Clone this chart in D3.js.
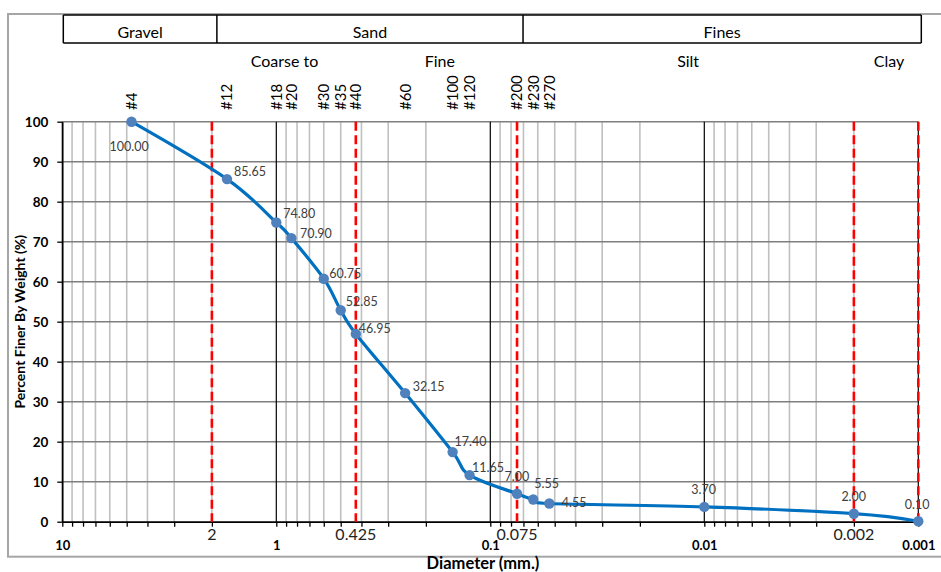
<!DOCTYPE html>
<html>
<head>
<meta charset="utf-8">
<script src="https://cdn.jsdelivr.net/npm/d3@7/dist/d3.min.js"></script>
<style>
  html, body { margin: 0; padding: 0; background: #fff; }
  svg { display: block; font-family: Lato, "Open Sans", sans-serif; }
</style>
</head>
<body>
<svg id="chart" width="941" height="572"></svg>
<script>
// Grain size distribution: sieve and hydrometer results
const diameters = [4.75, 1.7, 1.0, 0.85, 0.6, 0.5, 0.425, 0.25, 0.15, 0.125, 0.075, 0.063, 0.053, 0.01, 0.002, 0.001];
const percentFiner = [100.00, 85.65, 74.80, 70.90, 60.75, 52.85, 46.95, 32.15, 17.40, 11.65, 7.00, 5.55, 4.55, 3.70, 2.00, 0.10];

// US standard sieve numbers and their openings (mm)
const sieveNames = ["#4", "#12", "#18", "#20", "#30", "#35", "#40", "#60", "#100", "#120", "#200", "#230", "#270"];
const sieveSizes = [4.75, 1.7, 1.0, 0.85, 0.6, 0.5, 0.425, 0.25, 0.15, 0.125, 0.075, 0.063, 0.053];

// Soil classification boundaries (mm)
const boundaryDiameters = [2, 0.425, 0.075, 0.002, 0.001];
const boundaryLabels = ["2", "0.425", "0.075", "0.002", ""];

// Header groups and sub-labels
const groupNames = ["Gravel", "Sand", "Fines"];
const groupEdges = [10, 2, 0.075, 0.001];
const subNames = ["Coarse to", "Fine", "Silt", "Clay"];
const subCenters = [0.916, 0.172, 0.0119, 0.00137];

// Axis ticks
const decadeTicks = [10, 1, 0.1, 0.01, 0.001];
const percentTicks = [0, 10, 20, 30, 40, 50, 60, 70, 80, 90, 100];

// Data label placement relative to each marker
const labelOffsets = [
  [-22, 29], [7, -3], [7, -4.5], [8.5, -0.5], [5.5, -0.5], [5, -4.5], [3, -1],
  [7.5, -2.5], [2, -6], [2.5, -3], [-12.5, -12.5], [1, -11.5], [12.5, 3],
  [-13, -12.5], [-12.5, -12.5], [-13.5, -12.5]
];

const svg = d3.select("#chart");
const L = 62.3, R = 918.3, T = 121.7, B = 521.7;

const x = d3.scaleLog().domain([10, 0.001]).range([L, R]);
const y = d3.scaleLinear().domain([0, 100]).range([B, T]);

// outer chart frame
svg.append("rect")
  .attr("x", 8).attr("y", 14).attr("width", 960).attr("height", 542.7)
  .attr("fill", "none").attr("stroke", "#a6a6a6").attr("stroke-width", 2);

// all log gridline values (2..9 within each decade)
const minorVals = [];
for (let e = 0; e > -3.5; e--) {
  for (let m = 2; m <= 9; m++) minorVals.push(m * Math.pow(10, e));
}
const gridVals = minorVals.filter(v => v <= 10 && v >= 0.001);

const grid = svg.append("g");
grid.selectAll("line.minor").data(gridVals).join("line")
  .attr("class", "minor")
  .attr("x1", d => x(d)).attr("x2", d => x(d))
  .attr("y1", T).attr("y2", B)
  .attr("stroke", "#c0c0c0").attr("stroke-width", 1.6);

grid.selectAll("line.hgrid").data(percentTicks).join("line")
  .attr("class", "hgrid")
  .attr("x1", L).attr("x2", R)
  .attr("y1", d => y(d)).attr("y2", d => y(d))
  .attr("stroke", "#7f7f7f").attr("stroke-width", 1.5);

grid.selectAll("line.major").data(decadeTicks).join("line")
  .attr("class", "major")
  .attr("x1", d => x(d)).attr("x2", d => x(d))
  .attr("y1", T).attr("y2", B)
  .attr("stroke", "#000").attr("stroke-width", 1.2);

// axes
const yAxis = svg.append("g")
  .attr("transform", `translate(${L},0)`)
  .call(d3.axisLeft(y).tickValues(percentTicks).tickSize(5).tickSizeOuter(0).tickPadding(9));
yAxis.select(".domain").attr("stroke", "#000").attr("stroke-width", 1.5);
yAxis.selectAll(".tick line").attr("stroke", "#000").attr("stroke-width", 1.3);
yAxis.selectAll(".tick text")
  .attr("font-family", "Lato, sans-serif").attr("font-size", 13.5).attr("font-weight", "bold").attr("fill", "#000");

const xMinorAxis = svg.append("g")
  .attr("transform", `translate(0,${B})`)
  .call(d3.axisBottom(x).tickValues(gridVals.concat(decadeTicks)).tickSize(5).tickSizeOuter(0).tickFormat(""));
xMinorAxis.select(".domain").attr("stroke", "#000").attr("stroke-width", 1.5);
xMinorAxis.selectAll(".tick line").attr("stroke", "#000").attr("stroke-width", 1.3);

const xAxis = svg.append("g")
  .attr("transform", `translate(0,${B})`)
  .call(d3.axisBottom(x).tickValues(decadeTicks).tickSize(0).tickPadding(19)
    .tickFormat(d => d3.format("")(d)));
xAxis.select(".domain").remove();
xAxis.selectAll(".tick text")
  .attr("font-family", "Lato, sans-serif").attr("font-size", 13).attr("font-weight", "bold").attr("fill", "#000");

// classification boundaries
svg.append("g").selectAll("line").data(boundaryDiameters).join("line")
  .attr("x1", d => x(d)).attr("x2", d => x(d))
  .attr("y1", T).attr("y2", B)
  .attr("stroke", "#ff0000").attr("stroke-width", 2.6)
  .attr("stroke-dasharray", "9,4.5");

svg.append("g").selectAll("text").data(boundaryDiameters).join("text")
  .attr("x", d => x(d)).attr("y", B + 18)
  .attr("text-anchor", "middle")
  .attr("font-size", 16).attr("fill", "#222")
  .text((d, i) => boundaryLabels[i]);

// gradation curve
const pts = diameters.map((d, i) => [x(d), y(percentFiner[i])]);
svg.append("path")
  .attr("d", d3.line().curve(d3.curveCardinal.tension(0))(pts))
  .attr("fill", "none").attr("stroke", "#0070c0").attr("stroke-width", 3.2)
  .attr("stroke-linejoin", "round");

svg.append("g").selectAll("circle").data(pts).join("circle")
  .attr("cx", d => d[0]).attr("cy", d => d[1]).attr("r", 5.2)
  .attr("fill", "#4f81bd");

svg.append("g").selectAll("text").data(pts).join("text")
  .attr("x", (d, i) => d[0] + labelOffsets[i][0])
  .attr("y", (d, i) => d[1] + labelOffsets[i][1])
  .attr("font-size", 12.5).attr("fill", "#404040")
  .text((d, i) => percentFiner[i].toFixed(2));

// sieve numbers along the top
svg.append("g").selectAll("text").data(sieveSizes).join("text")
  .attr("transform", d => `translate(${x(d)},110) rotate(-90)`)
  .attr("dy", "0.36em")
  .attr("font-size", 15).attr("fill", "#000")
  .text((d, i) => sieveNames[i]);

// soil group header
const head = svg.append("g");
const hx = (d, i) => x(d) + [1, 5, 6, 3][i];
head.append("line")
  .attr("x1", hx(groupEdges[0], 0)).attr("x2", hx(groupEdges[3], 3))
  .attr("y1", 15).attr("y2", 15).attr("stroke", "#000").attr("stroke-width", 1.5);
head.append("line")
  .attr("x1", hx(groupEdges[0], 0)).attr("x2", hx(groupEdges[3], 3))
  .attr("y1", 43).attr("y2", 43).attr("stroke", "#000").attr("stroke-width", 1.5);
head.selectAll("line.div").data(groupEdges).join("line")
  .attr("class", "div")
  .attr("x1", (d, i) => hx(d, i)).attr("x2", (d, i) => hx(d, i))
  .attr("y1", 15).attr("y2", 43).attr("stroke", "#000").attr("stroke-width", 1.5);
head.selectAll("text").data(groupNames).join("text")
  .attr("x", (d, i) => (hx(groupEdges[i], i) + hx(groupEdges[i + 1], i + 1)) / 2)
  .attr("y", 37.5).attr("text-anchor", "middle")
  .attr("font-size", 16).attr("fill", "#000")
  .text(d => d);

svg.append("g").selectAll("text").data(subNames).join("text")
  .attr("x", (d, i) => x(subCenters[i]))
  .attr("y", 67).attr("text-anchor", "middle")
  .attr("font-size", 16).attr("fill", "#000")
  .text(d => d);

// axis titles
svg.append("text")
  .attr("transform", `translate(25,${(T + B) / 2}) rotate(-90)`)
  .attr("text-anchor", "middle")
  .attr("font-size", 14).attr("font-weight", "bold").attr("fill", "#000")
  .text("Percent Finer By Weight (%)");

svg.append("text")
  .attr("x", 483).attr("y", 569)
  .attr("text-anchor", "middle")
  .attr("font-size", 16.5).attr("font-weight", "bold").attr("fill", "#000")
  .text("Diameter (mm.)");
</script>
</body>
</html>
